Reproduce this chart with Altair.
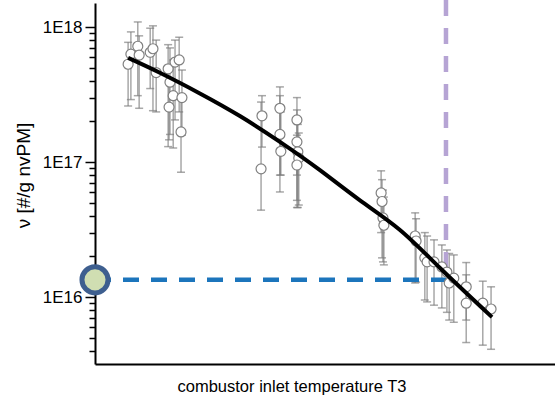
import altair as alt
import pandas as pd

# Measured particle number emission index vs. combustor inlet temperature
t3 = [7.2, 7.8, 9.3, 9.6, 12.0, 12.6, 13.3, 15.9, 16.3, 17.4, 18.3, 17.0, 18.9, 16.1, 18.7,
      36.3, 36.1, 40.2, 40.2, 40.4, 43.9, 43.9, 44.1, 44.3, 43.9,
      62.2, 62.4, 62.6, 62.8,
      69.6, 69.8, 71.7, 72.2, 73.7, 75.4, 76.5, 77.0, 78.0, 80.7, 80.7, 84.3, 86.1]
nu = [5.3e17, 6.3e17, 7.2e17, 6.2e17, 6.5e17, 6.9e17, 4.6e17, 4.9e17, 3.9e17, 5.5e17, 5.7e17, 3.1e17, 3.0e17, 2.55e17, 1.67e17,
      2.2e17, 8.9e16, 2.5e17, 1.6e17, 1.2e17, 2.05e17, 1.41e17, 1.19e17, 1.07e17, 9.5e16,
      5.9e16, 5.1e16, 3.85e16, 3.4e16,
      2.83e16, 2.6e16, 1.95e16, 1.82e16, 1.82e16, 1.67e16, 1.53e16, 1.27e16, 1.38e16, 1.19e16, 9.0e15, 9.0e15, 8.15e15]
nu_hi = [7.7e17, 9.2e17, 1.09e18, 8.6e17, 9.8e17, 1.02e18, 8.0e17, 7.4e17, 7.0e17, 8.0e17, 8.4e17, 5.7e17, 4.8e17, 3.9e17, 3.1e17,
         3.1e17, 2.78e17, 3.6e17, 3.1e17, 2.35e17, 3.0e17, 2.43e17, 1.9e17, 1.64e17, 1.58e17,
         8.6e16, 7.4e16, 6.2e16, 5.5e16,
         4.2e16, 3.8e16, 3.0e16, 2.83e16, 2.65e16, 2.43e16, 2.23e16, 2.1e16, 2.05e16, 1.8e16, 1.46e16, 1.31e16, 1.19e16]
nu_lo = [2.6e17, 2.9e17, 3.1e17, 2.5e17, 3.5e17, 2.4e17, 2.35e17, 1.3e17, 1.6e17, 2.05e17, 2.35e17, 1.27e17, 1.58e17, 1.46e17, 8.4e16,
         1.29e17, 4.4e16, 8.0e16, 6.0e16, 8.0e16, 8.0e16, 5.2e16, 4.6e16, 4.8e16, 4.6e16,
         3.0e16, 1.95e16, 1.82e16, 1.73e16,
         1.27e16, 1.29e16, 9.5e15, 9.2e15, 8.7e15, 8.3e15, 7.7e15, 6.75e15, 6.5e15, 6.75e15, 4.6e15, 4.4e15, 4.1e15]

# Fitted trend
fit_t3 = [7.2, 14.1, 22.8, 31.5, 40.2, 48.9, 57.6, 66.3, 75.0, 86.3]
fit_nu = [5.9e17, 4.58e17, 3.22e17, 2.19e17, 1.41e17, 8.7e16, 5.2e16, 3.14e16, 1.64e16, 7.1e15]

# Operating point
op_t3 = 76.3
op_nu = 1.34e16
op_guide_bottom = 1.64e16
op_guide_top = 1.6e18

y_domain = [3.19e15, 1.506e18]
x_domain = [0, 100]
y_ticks = [m * 10 ** e for e in (15, 16, 17, 18) for m in range(1, 10)
           if y_domain[0] <= m * 10 ** e <= y_domain[1]]

FONT = "Liberation Sans"
major = "abs(log(datum.value)/LN10 - round(log(datum.value)/LN10)) < 1e-6"

df = pd.DataFrame({"t3": t3, "nu": nu, "hi": nu_hi, "lo": nu_lo})
fit = pd.DataFrame({"t3": fit_t3, "nu": fit_nu})

xs = alt.Scale(domain=x_domain, nice=False, zero=False)
ys = alt.Scale(type="log", domain=y_domain, nice=False)

x_axis = alt.Axis(
    title="combustor inlet temperature T3", ticks=False, labels=False, grid=False,
    domainColor="black", domainWidth=2, titleFont=FONT, titleFontSize=16.5,
    titleFontWeight="normal", titleColor="black", titleX=196.5, titleY=27,
    titleAlign="center", titleBaseline="alphabetic",
)
y_axis = alt.Axis(
    title="ν [#/g nvPM]", values=y_ticks, grid=False,
    labelExpr=f"{major} ? '1E' + round(log(datum.value)/LN10) : ''",
    tickSize={"condition": {"test": major, "value": 10}, "value": 6},
    tickColor="black", tickWidth=1.5, domainColor="black", domainWidth=2,
    labelFont=FONT, labelFontSize=17, labelColor="black", labelPadding=3,
    titleFont=FONT, titleFontSize=19, titleFontWeight="normal", titleColor="black",
    titleAngle=270, titleX=-72, titleY=172, titleAlign="center", titleBaseline="middle",
)

base = alt.Chart(df)
BAR = "#7a7a7a"

bars = base.mark_rule(color=BAR, strokeWidth=1.5, opacity=0.65).encode(
    x=alt.X("t3:Q", scale=xs, axis=x_axis),
    y=alt.Y("lo:Q", scale=ys, axis=y_axis),
    y2="hi:Q",
)
cap_lo = base.mark_tick(color=BAR, orient="horizontal", size=8, thickness=1.5, opacity=0.65).encode(
    x=alt.X("t3:Q", scale=xs), y=alt.Y("lo:Q", scale=ys))
cap_hi = base.mark_tick(color=BAR, orient="horizontal", size=8, thickness=1.5, opacity=0.65).encode(
    x=alt.X("t3:Q", scale=xs), y=alt.Y("hi:Q", scale=ys))

op = pd.DataFrame({"t3": [op_t3], "nu": [op_nu], "x0": [0.0],
                   "gb": [op_guide_bottom], "gt": [op_guide_top]})
h_guide = alt.Chart(op).mark_rule(color="#1c75bc", strokeWidth=4.5, strokeDash=[16, 12]).encode(
    x=alt.X("x0:Q", scale=xs), x2="t3:Q", y=alt.Y("nu:Q", scale=ys))
v_guide = alt.Chart(op).mark_rule(color="#b6a4d4", strokeWidth=4.5, strokeDash=[16, 12]).encode(
    x=alt.X("t3:Q", scale=xs), y=alt.Y("gb:Q", scale=ys), y2="gt:Q")

points = base.mark_point(shape="circle", filled=True, fill="white", stroke="#808080",
                         strokeWidth=1.2, size=100, opacity=1).encode(
    x=alt.X("t3:Q", scale=xs), y=alt.Y("nu:Q", scale=ys))

trend = alt.Chart(fit).mark_line(color="black", strokeWidth=4, interpolate="natural").encode(
    x=alt.X("t3:Q", scale=xs), y=alt.Y("nu:Q", scale=ys))

op_point = alt.Chart(op).mark_point(shape="circle", filled=True, fill="#d0deb2", stroke="#3e5f8f",
                                    strokeWidth=5, size=680, opacity=1).encode(
    x=alt.X("x0:Q", scale=xs), y=alt.Y("nu:Q", scale=ys))

chart = alt.layer(bars, cap_lo, cap_hi, h_guide, v_guide, points, trend, op_point).properties(
    width=460, height=361,
    autosize=alt.AutoSizeParams(type="none"),
    padding={"left": 95, "top": 3, "right": 0, "bottom": 35},
    background="white",
).configure_view(stroke=None)

chart.save("out.html", embed_options={"renderer": "svg", "actions": False})
